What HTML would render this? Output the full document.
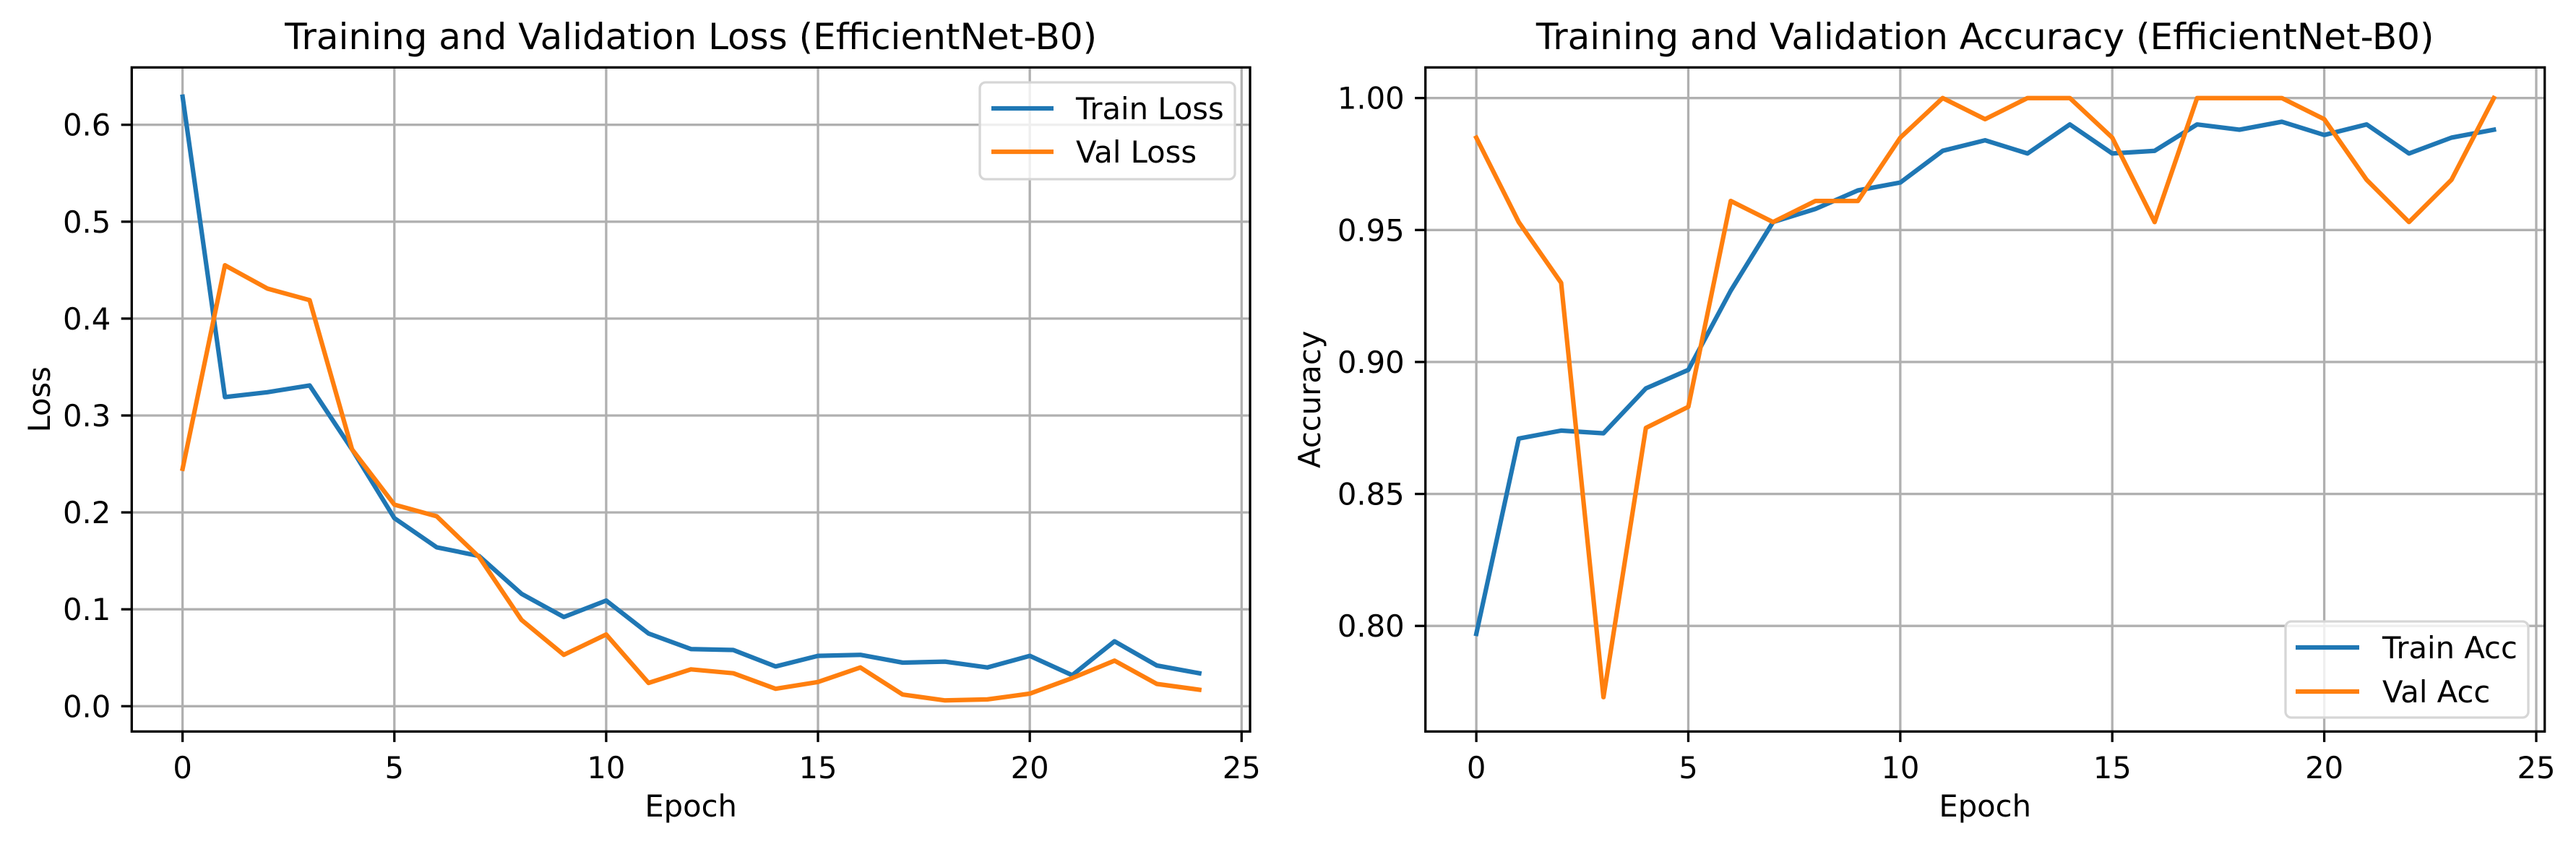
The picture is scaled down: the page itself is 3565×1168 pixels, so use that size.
<!DOCTYPE html>
<html><head><meta charset="utf-8"><style>
html,body{margin:0;padding:0;background:#fff;}
svg{display:block;font-family:"DejaVu Sans","Liberation Sans",sans-serif;}
</style></head><body>
<svg id="fig" width="3565" height="1168" viewBox="0 0 3565 1168" xmlns="http://www.w3.org/2000/svg"></svg>
<script>
const epochs = [0,1,2,3,4,5,6,7,8,9,10,11,12,13,14,15,16,17,18,19,20,21,22,23,24];
const trainLoss = [0.629,0.319,0.324,0.331,0.265,0.194,0.164,0.155,0.116,0.092,0.109,0.075,0.059,0.058,0.041,0.052,0.053,0.045,0.046,0.040,0.052,0.032,0.067,0.042,0.034];
const valLoss = [0.245,0.455,0.431,0.419,0.265,0.208,0.196,0.154,0.089,0.053,0.074,0.024,0.038,0.034,0.018,0.025,0.040,0.012,0.006,0.007,0.013,0.029,0.047,0.023,0.017];
const trainAcc = [0.797,0.871,0.874,0.873,0.890,0.897,0.927,0.953,0.958,0.965,0.968,0.980,0.984,0.979,0.990,0.979,0.980,0.990,0.988,0.991,0.986,0.990,0.979,0.985,0.988];
const valAcc = [0.985,0.953,0.930,0.773,0.875,0.883,0.961,0.953,0.961,0.961,0.985,1.0,0.992,1.0,1.0,0.985,0.953,1.0,1.0,1.0,0.992,0.969,0.953,0.969,1.0];
const xTicks = [0,5,10,15,20,25];
const lossTicks = [0.0,0.1,0.2,0.3,0.4,0.5,0.6];
const lossTickLabels = ["0.0","0.1","0.2","0.3","0.4","0.5","0.6"];
const accTicks = [0.80,0.85,0.90,0.95,1.00];
const accTickLabels = ["0.80","0.85","0.90","0.95","1.00"];

const NS = "http://www.w3.org/2000/svg";
const svg = document.getElementById('fig');
function mk(tag, attrs, parent, text){
  const e = document.createElementNS(NS, tag);
  for (const k in attrs) e.setAttribute(k, attrs[k]);
  if (text !== undefined) e.textContent = text;
  (parent || svg).appendChild(e);
  return e;
}

function panel(cfg){
  const g = mk('g', {});
  
  
  const L = cfg.left, R = cfg.right, T = 93.3, B = 1012.3;
  const xs = v => L + (v - (-1.2)) / 26.4 * (R - L);
  const ys = v => B - (v - cfg.ymin) / (cfg.ymax - cfg.ymin) * (B - T);
  xTicks.forEach(t => {
    const x = xs(t);
    if (x > R) return;
    const l = mk('line', {x1:x, x2:x, y1:T, y2:B, stroke:'#b0b0b0', 'stroke-width':3.3}, g);
    
    
  });
  cfg.yTicks.forEach(t => {
    const y = ys(t);
    const l = mk('line', {x1:L, x2:R, y1:y, y2:y, stroke:'#b0b0b0', 'stroke-width':3.3}, g);
    
    
  });
  const series = [[cfg.train, '#1f77b4', 'train-line'], [cfg.val, '#ff7f0e', 'val-line']];
  series.forEach(s => {
    const pts = s[0].map((v, i) => xs(epochs[i]).toFixed(1) + ',' + ys(v).toFixed(1)).join(' ');
    const p = mk('polyline', {points:pts, fill:'none', stroke:s[1], 'stroke-width':6.25, 'stroke-linejoin':'round', 'stroke-linecap':'square'}, g);
    
    
  });
  const fr = mk('rect', {x:L, y:T, width:R-L, height:B-T, fill:'none', stroke:'#000', 'stroke-width':3.3}, g);
  
  
  xTicks.forEach(t => {
    const x = xs(t);
    mk('line', {x1:x, x2:x, y1:B, y2:B+14.6, stroke:'#000', 'stroke-width':3.3}, g);
    const tx = mk('text', {x:x, y:1077, 'font-size':41.7, 'text-anchor':'middle'}, g, String(t));
    
    
  });
  cfg.yTicks.forEach((t, i) => {
    const y = ys(t);
    mk('line', {x1:L-14.6, x2:L, y1:y, y2:y, stroke:'#000', 'stroke-width':3.3}, g);
    const tx = mk('text', {x:L-29, y:y+15, 'font-size':41.7, 'text-anchor':'end'}, g, cfg.yLabels[i]);
    
    
  });
  const ttl = mk('text', {x:(L+R)/2, y:68, 'font-size':50, 'text-anchor':'middle'}, g, cfg.title);
  
  
  const xl = mk('text', {x:(L+R)/2, y:1130, 'font-size':41.7, 'text-anchor':'middle'}, g, 'Epoch');
  
  
  const yl = mk('text', {x:0, y:0, 'font-size':41.7, 'text-anchor':'middle', transform:'translate(' + (cfg.ylabelX+15) + ',' + ((T+B)/2) + ') rotate(-90)'}, g, cfg.ylabel);
  
  
  const lg = mk('g', {}, g);
  
  
  const lb = cfg.legend;
  mk('rect', {x:lb.x, y:lb.y, width:lb.w, height:lb.h, rx:8, fill:'#fff', 'fill-opacity':0.8, stroke:'#d6d6d6', 'stroke-width':3.3}, lg);
  [[cfg.names[0], '#1f77b4', lb.r1], [cfg.names[1], '#ff7f0e', lb.r2]].forEach(e => {
    const eg = mk('g', {}, lg);
    
    
    mk('line', {x1:lb.hx1, x2:lb.hx2, y1:e[2], y2:e[2], stroke:e[1], 'stroke-width':6.25}, eg);
    mk('text', {x:lb.tx, y:e[2]+15, 'font-size':41.7}, eg, e[0]);
  });
}

panel({name:'loss-chart', left:182.3, right:1730, ymin:-0.0261, ymax:0.6592,
  train:trainLoss, val:valLoss, yTicks:lossTicks, yLabels:lossTickLabels,
  title:'Training and Validation Loss (EfficientNet-B0)', ylabel:'Loss', ylabelX:54,
  names:['Train Loss','Val Loss'],
  legend:{x:1356, y:114, w:353, h:134, r1:150, r2:210, hx1:1372, hx2:1458, tx:1489}});
panel({name:'accuracy-chart', left:1972.7, right:3521.7, ymin:0.7600, ymax:1.0116,
  train:trainAcc, val:valAcc, yTicks:accTicks, yLabels:accTickLabels,
  title:'Training and Validation Accuracy (EfficientNet-B0)', ylabel:'Accuracy', ylabelX:1812,
  names:['Train Acc','Val Acc'],
  legend:{x:3163, y:860, w:336, h:133, r1:896, r2:957, hx1:3177, hx2:3265, tx:3297}});
</script>
</body></html>
